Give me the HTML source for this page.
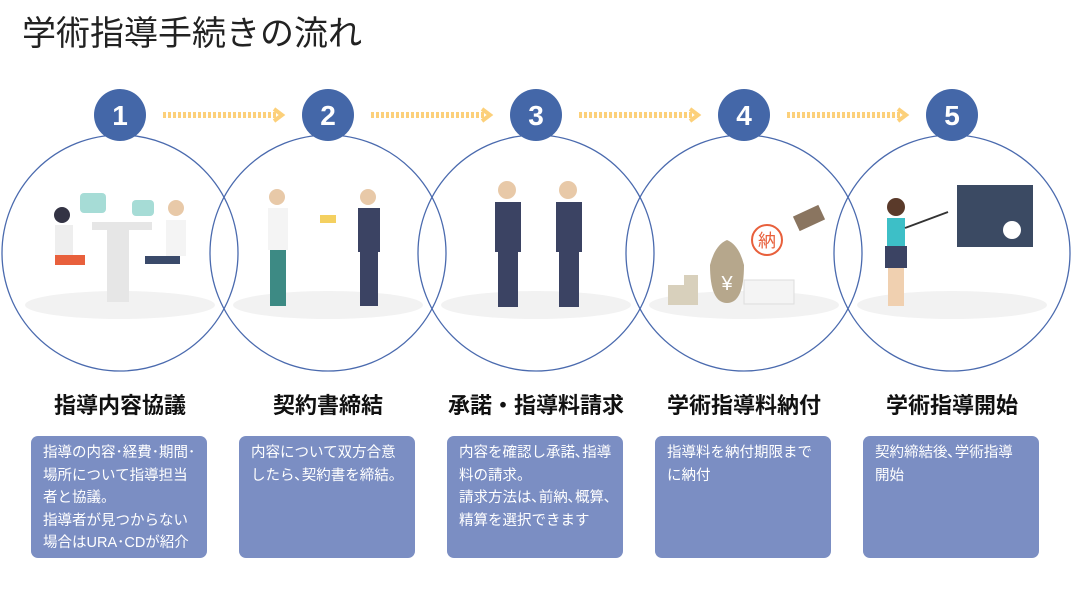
<!DOCTYPE html>
<html><head><meta charset="utf-8"><style>
body{margin:0;width:1072px;height:590px;background:#fff;position:relative;overflow:hidden;font-family:"Liberation Sans","Noto Sans CJK JP",sans-serif}
.t{position:absolute;left:22px;top:6px;font-size:34px;color:#222;font-weight:normal;letter-spacing:0}
.lb{position:absolute;top:388px;width:208px;text-align:center;font-size:22px;font-weight:bold;color:#111}
.bx{position:absolute;top:436px;width:156px;height:106px;background:#7b8ec3;border-radius:7px;color:#fff;font-size:14.5px;line-height:22.5px;padding:6px 8px 10px 12px;white-space:nowrap}
</style></head><body>
<div class="t">学術指導手続きの流れ</div>
<svg width="1072" height="590" style="position:absolute;left:0;top:0">
<g fill="none" stroke="#4a6aae" stroke-width="1.3">
<circle cx="120" cy="253" r="118"/><circle cx="328" cy="253" r="118"/><circle cx="536" cy="253" r="118"/><circle cx="744" cy="253" r="118"/><circle cx="952" cy="253" r="118"/>
</g>
<g fill="#f2f2f2">
<ellipse cx="120" cy="305" rx="95" ry="14"/><ellipse cx="328" cy="305" rx="95" ry="14"/><ellipse cx="536" cy="305" rx="95" ry="14"/><ellipse cx="744" cy="305" rx="95" ry="14"/><ellipse cx="952" cy="305" rx="95" ry="14"/>
</g>
<g fill="#4467a8">
<circle cx="120" cy="115" r="26"/><circle cx="328" cy="115" r="26"/><circle cx="536" cy="115" r="26"/><circle cx="744" cy="115" r="26"/><circle cx="952" cy="115" r="26"/>
</g>
<g fill="#fff" font-size="28" font-weight="bold" text-anchor="middle" font-family="Liberation Sans,sans-serif">
<text x="120" y="125">1</text><text x="328" y="125">2</text><text x="536" y="125">3</text><text x="744" y="125">4</text><text x="952" y="125">5</text>
</g>
<g stroke="#fcd07a" stroke-width="6" fill="none">
<line x1="163" y1="115" x2="276" y2="115" stroke-dasharray="3 2"/><polyline points="274,109 282,115 274,121" stroke-width="4"/>
<line x1="371" y1="115" x2="484" y2="115" stroke-dasharray="3 2"/><polyline points="482,109 490,115 482,121" stroke-width="4"/>
<line x1="579" y1="115" x2="692" y2="115" stroke-dasharray="3 2"/><polyline points="690,109 698,115 690,121" stroke-width="4"/>
<line x1="787" y1="115" x2="900" y2="115" stroke-dasharray="3 2"/><polyline points="898,109 906,115 898,121" stroke-width="4"/>
</g>
<rect x="92" y="222" width="60" height="8" fill="#e6e6e6"/><rect x="107" y="230" width="22" height="72" fill="#e6e6e6"/>
<rect x="80" y="193" width="26" height="20" rx="4" fill="#a6dcd6"/><rect x="132" y="200" width="22" height="16" rx="4" fill="#a6dcd6"/>
<circle cx="62" cy="215" r="8" fill="#334"/><rect x="55" y="225" width="18" height="32" fill="#eee"/><rect x="55" y="255" width="30" height="10" fill="#e8603c"/>
<circle cx="176" cy="208" r="8" fill="#e8c9a8"/><rect x="166" y="220" width="20" height="36" fill="#f4f4f4"/><rect x="145" y="256" width="35" height="8" fill="#3a4a6a"/>
<circle cx="277" cy="197" r="8" fill="#e8c9a8"/><rect x="268" y="208" width="20" height="42" fill="#f4f4f4"/><rect x="270" y="250" width="16" height="56" fill="#3d8a84"/>
<circle cx="368" cy="197" r="8" fill="#e8c9a8"/><rect x="358" y="208" width="22" height="44" fill="#3b4363"/><rect x="360" y="252" width="18" height="54" fill="#3b4363"/><rect x="320" y="215" width="16" height="8" fill="#f4d060"/>
<circle cx="507" cy="190" r="9" fill="#e8c9a8"/><rect x="495" y="202" width="26" height="50" fill="#3b4363"/><rect x="498" y="252" width="20" height="55" fill="#3b4363"/>
<circle cx="568" cy="190" r="9" fill="#e8c9a8"/><rect x="556" y="202" width="26" height="50" fill="#3b4363"/><rect x="559" y="252" width="20" height="55" fill="#3b4363"/>
<path d="M710 265 q5 -20 17 -25 q12 5 17 25 q0 38 -17 38 q-17 0 -17 -38z" fill="#b6a78c"/><text x="727" y="290" font-size="20" fill="#fff" text-anchor="middle">¥</text>
<rect x="744" y="280" width="50" height="24" fill="#f4f4f4" stroke="#ddd"/>
<circle cx="767" cy="240" r="15" fill="none" stroke="#e8603c" stroke-width="2"/><text x="767" y="247" font-size="18" fill="#e8603c" text-anchor="middle">納</text>
<rect x="795" y="210" width="28" height="16" fill="#8a7560" transform="rotate(-25 809 218)"/>
<rect x="668" y="285" width="16" height="20" fill="#d8d0bc"/><rect x="684" y="275" width="14" height="30" fill="#d8d0bc"/>
<rect x="957" y="185" width="76" height="62" fill="#3b4a63"/><circle cx="1012" cy="230" r="9" fill="#fff"/>
<circle cx="896" cy="207" r="9" fill="#5a3a2a"/><rect x="887" y="218" width="18" height="28" fill="#3dbfc7"/><rect x="885" y="246" width="22" height="22" fill="#3b4363"/><rect x="888" y="268" width="16" height="38" fill="#f0d0b0"/>
<line x1="905" y1="228" x2="948" y2="212" stroke="#333" stroke-width="2"/>
</svg>
<div class="lb" style="left:16px">指導内容協議</div>
<div class="lb" style="left:224px">契約書締結</div>
<div class="lb" style="left:432px">承諾・指導料請求</div>
<div class="lb" style="left:640px">学術指導料納付</div>
<div class="lb" style="left:848px">学術指導開始</div>
<div class="bx" style="left:31px">指導の内容･経費･期間･<br>場所について指導担当<br>者と協議。<br>指導者が見つからない<br>場合はURA･CDが紹介</div>
<div class="bx" style="left:239px">内容について双方合意<br>したら､契約書を締結。</div>
<div class="bx" style="left:447px">内容を確認し承諾､指導<br>料の請求。<br>請求方法は､前納､概算､<br>精算を選択できます</div>
<div class="bx" style="left:655px">指導料を納付期限まで<br>に納付</div>
<div class="bx" style="left:863px">契約締結後､学術指導<br>開始</div>
</body></html>
